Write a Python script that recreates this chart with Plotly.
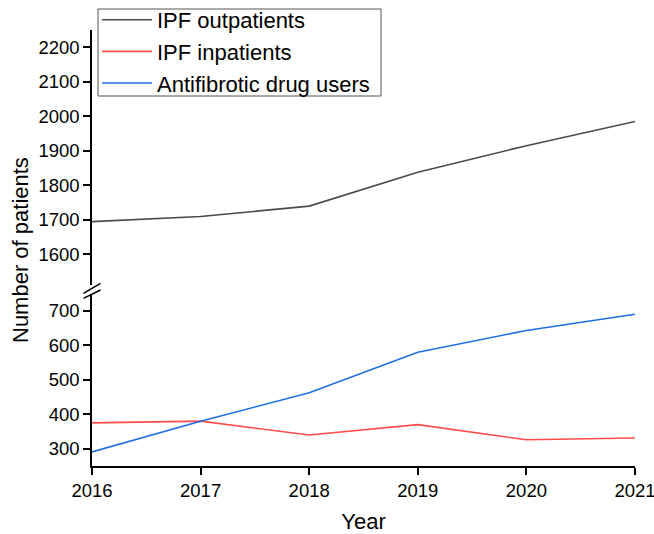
import plotly.graph_objects as go

years = [2016, 2017, 2018, 2019, 2020, 2021]
outpatients = [1695, 1710, 1740, 1838, 1915, 1985]
inpatients = [375, 380, 340, 370, 326, 331]
antifibrotic = [291, 380, 462, 580, 643, 690]

upper_ticks = [1600, 1700, 1800, 1900, 2000, 2100, 2200]
lower_ticks = [300, 400, 500, 600, 700]

W, H = 654, 534
L, T = 92, 30
R, B = 654 - 635, 534 - 466
ph = H - T - B
pw = W - L - R


def px(xp):
    return (xp - L) / pw


def py(yp):
    return (H - B - yp) / ph


fig = go.Figure()
fig.add_trace(go.Scatter(x=years, y=outpatients, mode="lines", name="IPF outpatients",
                         line=dict(color="#4a4a4a", width=1.6), xaxis="x", yaxis="y2"))
fig.add_trace(go.Scatter(x=years, y=inpatients, mode="lines", name="IPF inpatients",
                         line=dict(color="#ff4b4b", width=1.6), xaxis="x", yaxis="y"))
fig.add_trace(go.Scatter(x=years, y=antifibrotic, mode="lines", name="Antifibrotic drug users",
                         line=dict(color="#1f6fe5", width=1.6), xaxis="x", yaxis="y"))

lower_top = py(293.5)
upper_bot = py(289)

axis_common = dict(showline=True, linecolor="black", linewidth=1.5, ticks="outside",
                   tickcolor="black", ticklen=7, tickwidth=1.5, showgrid=False, zeroline=False,
                   automargin=False, ticklabeloverflow="allow",
                   tickfont=dict(family="Arial", size=18.5, color="black"))

fig.update_layout(
    width=W, height=H,
    margin=dict(l=L, r=R, t=T, b=B, autoexpand=False),
    plot_bgcolor="white", paper_bgcolor="white",
    font=dict(family="Arial", color="black"),
    xaxis=dict(range=[2016, 2021], tickvals=years, anchor="y",
               title=dict(text="Year", font=dict(size=22), standoff=18), **axis_common),
    yaxis=dict(range=[250, 750], tickvals=lower_ticks, domain=[0, lower_top], anchor="x",
               **axis_common),
    yaxis2=dict(range=[1500, 2250], tickvals=upper_ticks, domain=[upper_bot, 1], anchor="x",
                **axis_common),
    legend=dict(x=px(97), y=py(-1), xanchor="left", yanchor="top",
                borderwidth=0, bgcolor="rgba(0,0,0,0)",
                font=dict(family="Arial", size=22), tracegroupgap=0,
                itemwidth=50),
    showlegend=True,
)

# legend frame
fig.add_shape(type="rect", xref="paper", yref="paper", x0=px(98), x1=px(381),
              y0=py(96), y1=py(9), line=dict(color="#555555", width=1), fillcolor="white",
              layer="above")

fig.add_annotation(text="Number of patients", xref="paper", yref="paper",
                   x=px(20), y=py(250), textangle=-90,
                   showarrow=False, font=dict(family="Arial", size=22, color="black"),
                   xanchor="center", yanchor="middle")

# white gap in axis line
fig.add_shape(type="line", xref="paper", yref="paper", x0=0, x1=0,
              y0=py(293), y1=py(285), line=dict(color="white", width=4))
# axis break marks
for (ya, yb) in [(293.3, 283.3), (298.3, 290.0)]:
    fig.add_shape(type="line", xref="paper", yref="paper",
                  x0=px(83.5), x1=px(100.5), y0=py(ya), y1=py(yb),
                  line=dict(color="black", width=1.5))

fig.write_html("out.html", config={"displayModeBar": False},
               post_script="document.body.style.margin='0px';document.body.style.overflow='hidden';")
